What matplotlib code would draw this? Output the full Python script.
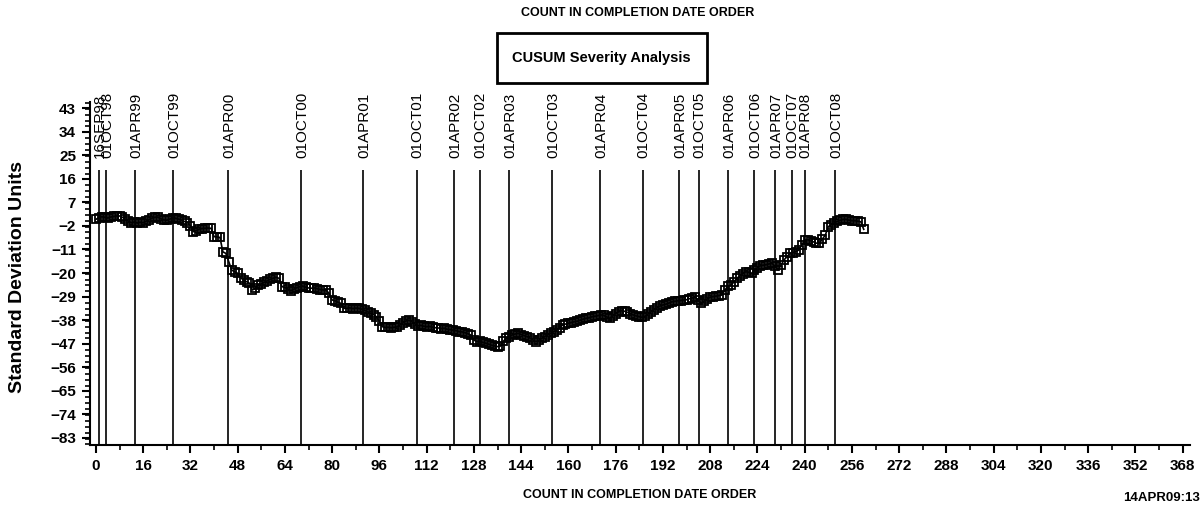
import numpy as np
import matplotlib
matplotlib.use("Agg")
import matplotlib.pyplot as plt
from matplotlib.ticker import MultipleLocator

# CUSUM values, one per record in completion date order
cusum = [
    0.5, 1.2, 1.5, 1.3, 1.0, 1.4, 1.6, 1.8, 1.8, 1.3,
    0.5, -0.2, -0.8, -0.5, -0.9, -0.6, -0.8, -0.2, 0.4, 1.0,
    1.3, 1.4, 0.7, 0.3, 0.2, 0.6, 1.0, 0.9, 0.6, 0.2,
    -0.3, -0.8, -1.9, -4.2, -3.8, -3.2, -3.0, -2.9, -2.8, -2.9,
    -6.1, -6.2, -6.4, -11.9, -12.5, -15.7, -18.9, -19.5, -20.1, -21.8,
    -22.7, -23.3, -23.9, -26.5, -25.8, -24.6, -24.2, -23.5, -23.0, -22.4,
    -22.0, -21.6, -22.0, -25.2, -25.5, -26.1, -26.8, -26.2, -25.6, -25.2,
    -25.0, -25.4, -25.7, -25.8, -25.7, -26.0, -26.3, -26.5, -26.6, -27.8,
    -30.3, -30.6, -31.2, -31.6, -33.5, -33.5, -33.3, -33.6, -33.4, -33.5,
    -33.8, -34.2, -34.8, -35.4, -35.9, -36.7, -38.5, -40.5, -40.8, -40.7,
    -40.9, -40.7, -40.6, -39.8, -39.0, -38.3, -38.0, -38.6, -39.4, -40.2,
    -40.0, -40.3, -40.5, -40.4, -40.7, -40.9, -41.0, -41.2, -41.1, -41.5,
    -41.6, -41.9, -42.0, -42.4, -42.5, -42.8, -43.2, -43.7, -45.6, -46.2,
    -46.0, -46.5, -46.8, -47.2, -47.6, -47.8, -48.1, -47.9, -46.0, -44.9,
    -44.3, -43.6, -43.3, -43.0, -43.5, -43.9, -44.3, -44.8, -45.6, -46.2,
    -45.7, -44.9, -44.3, -43.6, -43.0, -42.4, -41.8, -40.9, -39.9, -39.5,
    -39.2, -38.9, -38.6, -38.4, -38.0, -37.6, -37.3, -37.1, -36.7, -36.5,
    -36.3, -36.0, -36.2, -36.8, -37.3, -36.4, -35.5, -34.8, -34.4, -34.6,
    -35.0, -35.6, -36.0, -36.4, -36.7, -36.9, -36.5, -35.6, -34.8, -34.0,
    -33.3, -32.6, -32.2, -31.9, -31.5, -31.0, -30.8, -30.6, -30.5, -30.3,
    -30.2, -29.8, -29.5, -29.3, -30.4, -31.6, -30.7, -29.9, -29.2, -29.0,
    -28.8, -28.6, -28.4, -26.5, -25.0, -24.6, -23.5, -22.0, -21.2, -20.3,
    -19.5, -19.7, -20.1, -19.0, -18.0, -17.2, -17.0, -16.8, -16.5, -16.3,
    -17.5, -18.9, -17.0, -15.0, -13.8, -12.5, -12.2, -11.8, -11.2, -9.3,
    -7.4, -7.2, -7.6, -8.1, -8.6, -8.7, -7.0, -5.5, -2.3, -1.5,
    -0.8, -0.3, 0.1, 0.5, 0.5, 0.2, 0.0, 0.0, -0.2, -0.4,
    -3.3,
]

# reference dates and the count at which each one falls
date_labels = ["16SEP98", "01OCT98", "01APR99", "01OCT99", "01APR00", "01OCT00",
               "01APR01", "01OCT01", "01APR02", "01OCT02", "01APR03", "01OCT03",
               "01APR04", "01OCT04", "01APR05", "01OCT05", "01APR06", "01OCT06",
               "01APR07", "01OCT07", "01APR08", "01OCT08"]
date_pos = [1.1, 3.5, 13.2, 26.1, 44.7, 69.5, 90.6, 108.6, 121.3, 129.9, 139.9,
            154.5, 170.6, 185.1, 197.5, 204.1, 214.2, 223.0, 230.0, 235.6, 240.0, 250.2]

y_ticks = [43, 34, 25, 16, 7, -2, -11, -20, -29, -38, -47, -56, -65, -74, -83]
x_ticks = list(range(0, 369, 16))

FONT = ["Liberation Sans", "DejaVu Sans"]
plt.rcParams["font.family"] = FONT

fig = plt.figure(figsize=(12, 5.08), dpi=100)
ax = fig.add_axes([0.075, 0.124, 0.9167, 0.675])

x = np.arange(len(cusum))
ax.plot(x, cusum, color="black", lw=1.2, marker="s", markersize=5.5,
        markerfacecolor="none", markeredgecolor="black", markeredgewidth=1.3, zorder=3)

ymin, ymax = -85.7, 45.3
ax.vlines(date_pos, ymin, 19.3, colors="black", lw=1.2, zorder=2)
for xp, lab in zip(date_pos, date_labels):
    ax.text(xp + 0.4, 23.9, lab, rotation=90, ha="center", va="bottom", fontsize=11)

ax.set_xlim(-2, 370.5)
ax.set_ylim(ymin, ymax)
ax.set_xticks(x_ticks)
ax.xaxis.set_minor_locator(MultipleLocator(8))
ax.set_yticks(y_ticks)
ax.set_yticklabels([str(v).replace("-", "\u2212") for v in y_ticks])
ax.yaxis.set_minor_locator(MultipleLocator(2.25))

for s in ["top", "right"]:
    ax.spines[s].set_visible(False)
for s in ["left", "bottom"]:
    ax.spines[s].set_linewidth(1.5)
ax.tick_params(which="major", length=6, width=1.5, labelsize=11, pad=4)
ax.tick_params(which="minor", length=3.5, width=1.2)
for t in ax.get_xticklabels() + ax.get_yticklabels():
    t.set_fontweight("bold")

fig.text(0.015, 0.455, "Standard Deviation Units", rotation=90, ha="center", va="center",
         fontsize=14, fontweight="bold")
fig.text(0.533, 0.026, "COUNT IN COMPLETION DATE ORDER", ha="center", va="center",
         fontsize=9, fontweight="bold")
fig.text(0.531, 0.974, "COUNT IN COMPLETION DATE ORDER", ha="center", va="center",
         fontsize=9, fontweight="bold")
fig.text(0.501, 0.886, "CUSUM Severity Analysis", ha="center", va="center",
         fontsize=10.5, fontweight="bold")
fig.patches.append(plt.Rectangle((497 / 1200, 1 - 83 / 508), 210 / 1200, 50 / 508,
                                 transform=fig.transFigure, fill=False,
                                 edgecolor="black", lw=2))
fig.text(1123 / 1200, 0.02, "14APR09:13:56", ha="left", va="center",
         fontsize=9.5, fontweight="bold")

fig.savefig("out.png", dpi=100)
